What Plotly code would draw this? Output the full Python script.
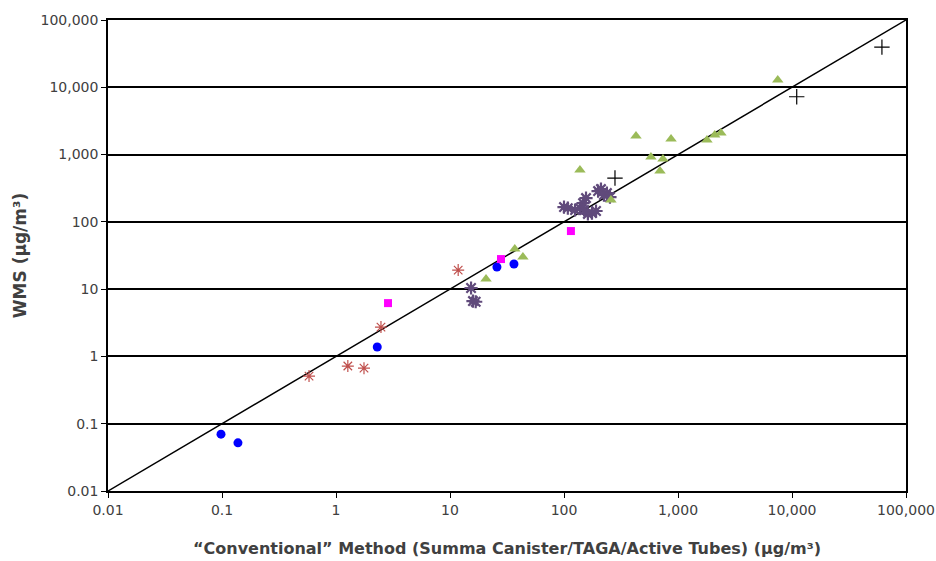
import plotly.graph_objects as go

# Data (µg/m³): conventional method (x) vs WMS (y)
blue_x = [0.098, 0.138, 2.3, 25.8, 36.4]
blue_y = [0.07, 0.052, 1.38, 21.3, 23.6]

magenta_x = [2.86, 28, 115]
magenta_y = [6.2, 28, 73]

red_x = [0.58, 1.27, 1.76, 2.48, 11.8]
red_y = [0.51, 0.72, 0.67, 2.73, 19.2]

green_x = [20.7, 37, 43.6, 138, 258, 428, 579, 869, 738, 695, 1795, 2100, 2380, 7500]
green_y = [14.1, 39.5, 30, 590, 211, 1880, 918, 1700, 857, 569, 1640, 1950, 2090, 12800]

black_x = [280, 11000, 61500]
black_y = [448, 7230, 39500]

purple_x = [15.3, 15.9, 16.8, 100, 108, 125, 138, 147, 156, 162, 176, 191, 199, 211, 224, 238, 253, 150]
purple_y = [10.4, 6.65, 6.5, 166, 160, 150, 160, 190, 226, 131, 135, 145, 287, 307, 250, 268, 233, 150]

line_x = [0.01, 100000]
line_y = [0.01, 100000]

tick_vals = [0.01, 0.1, 1, 10, 100, 1000, 10000, 100000]
tick_text = ["0.01", "0.1", "1", "10", "100", "1,000", "10,000", "100,000"]

fig = go.Figure()
fig.add_trace(go.Scatter(x=line_x, y=line_y, mode="lines",
                         line=dict(color="black", width=1.5), showlegend=False))
fig.add_trace(go.Scatter(x=purple_x, y=purple_y, mode="markers", showlegend=False,
                         marker=dict(symbol="asterisk-open", size=11, color="#604A7B",
                                     line=dict(color="#604A7B", width=2.2))))
fig.add_trace(go.Scatter(x=green_x, y=green_y, mode="markers", showlegend=False,
                         marker=dict(symbol="triangle-up", size=10, color="#9BBB59")))
fig.add_trace(go.Scatter(x=red_x, y=red_y, mode="markers", showlegend=False,
                         marker=dict(symbol="asterisk-open", size=10, color="#C0504D",
                                     line=dict(color="#C0504D", width=1.2))))
fig.add_trace(go.Scatter(x=blue_x, y=blue_y, mode="markers", showlegend=False,
                         marker=dict(symbol="circle", size=9, color="#0000FF")))
fig.add_trace(go.Scatter(x=magenta_x, y=magenta_y, mode="markers", showlegend=False,
                         marker=dict(symbol="square", size=8, color="#FF00FF")))
fig.add_trace(go.Scatter(x=black_x, y=black_y, mode="markers", showlegend=False,
                         marker=dict(symbol="cross-thin-open", size=11, color="black",
                                     line=dict(color="black", width=1.2))))

font_family = "'DejaVu Sans', sans-serif"
fig.update_layout(
    width=936, height=561,
    margin=dict(l=108, r=30, t=20, b=70),
    paper_bgcolor="white", plot_bgcolor="white",
    font=dict(family=font_family, size=14, color="#404040"),
)
fig.update_xaxes(type="log", range=[-2, 5], tickvals=tick_vals, ticktext=tick_text,
                 automargin=False,
                 showgrid=False, showline=True, linecolor="black", linewidth=1.5,
                 mirror=True, ticks="outside", ticklen=5, tickcolor="black",
                 tickfont=dict(size=14, color="#404040"),
                 zeroline=False,
                 title=dict(text="<b>“Conventional” Method (Summa Canister/TAGA/Active Tubes) (µg/m³)</b>",
                            font=dict(size=16, color="#404040"), standoff=26))
fig.update_yaxes(type="log", range=[-2, 5], tickvals=tick_vals, ticktext=tick_text,
                 automargin=False,
                 showgrid=True, gridcolor="black", gridwidth=1.5,
                 showline=True, linecolor="black", linewidth=1.5,
                 mirror=True, ticks="outside", ticklen=5, tickcolor="black",
                 tickfont=dict(size=14, color="#404040"),
                 zeroline=False,
                 title=dict(text="<b>WMS (µg/m³)</b>", font=dict(size=17, color="#404040"),
                            standoff=10))

fig.write_html("out.html",
               config={"displayModeBar": False},
               post_script="document.body.style.margin='0px';document.body.style.overflow='hidden';")
